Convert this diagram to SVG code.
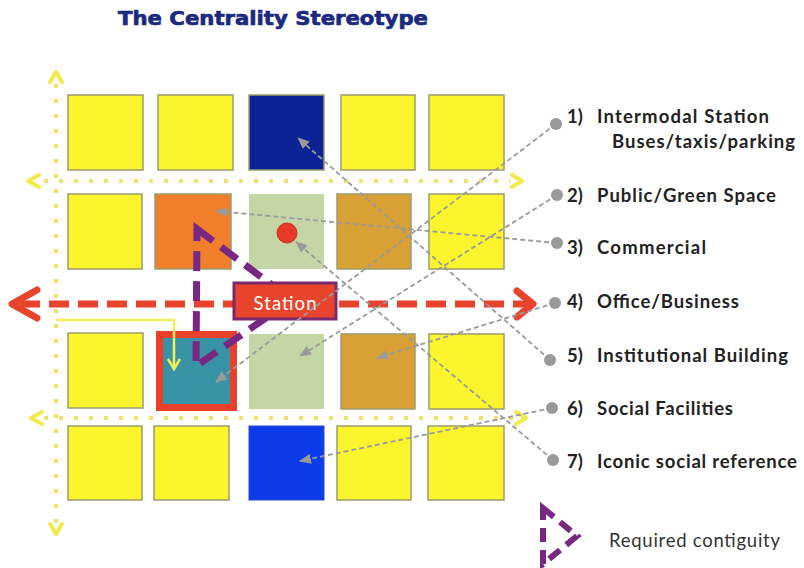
<svg xmlns="http://www.w3.org/2000/svg" width="804" height="568" viewBox="0 0 804 568">
<defs>
<style>
.box{stroke:#9c9c6c;stroke-width:1.5}
.yel{fill:#fcf52e}
.lbl{font-family:Lato,"Liberation Sans",sans-serif;font-weight:bold;font-size:18.5px;fill:#222}
.dot{stroke:#ece46a;stroke-width:4;stroke-dasharray:4 11;fill:none}
.chev{stroke:#f2ea48;stroke-width:4;fill:none;stroke-linejoin:round;stroke-linecap:round}
.gray{stroke:#9a9a9a;stroke-width:1.8;stroke-dasharray:5 3;fill:none}
.pur{stroke:#782882;stroke-width:7;stroke-dasharray:20 10;fill:none}
</style>
<marker id="ga" markerUnits="userSpaceOnUse" markerWidth="12" markerHeight="10" viewBox="0 0 12 10" refX="11" refY="5" orient="auto">
<path d="M0,0 L12,5 L0,10 z" fill="#9a9a9a"/>
</marker>
</defs>
<rect width="804" height="568" fill="#ffffff"/>
<text x="118" y="25" font-family="'DejaVu Sans',sans-serif" font-weight="bold" font-size="20" fill="#1b2a80" stroke="#1b2a80" stroke-width="0.7" textLength="310" lengthAdjust="spacingAndGlyphs">The Centrality Stereotype</text>

<g id="guides">
<line class="dot" x1="56" y1="84" x2="56" y2="526"/>
<polyline class="chev" points="50,82 56,72 62,82"/>
<polyline class="chev" points="50,524 56,534 62,524"/>
<line class="dot" x1="44" y1="181" x2="510" y2="181"/>
<polyline class="chev" points="39,175 28,181 39,187"/>
<polyline class="chev" points="512,175 522,181 512,187"/>
<line class="dot" x1="44" y1="418" x2="515" y2="418"/>
<polyline class="chev" points="42,412 31,418 42,424"/>
<polyline class="chev" points="516,412 526,418 516,424"/>
</g>

<g id="main-axis">
<line x1="20" y1="304" x2="528" y2="304" stroke="#e8432d" stroke-width="7" stroke-dasharray="20 9"/>
<polyline points="37,290 12,304 37,318" stroke="#e8432d" stroke-width="7" fill="none" stroke-linejoin="round" stroke-linecap="round"/>
<polyline points="517,291 533,304 517,317" stroke="#e8432d" stroke-width="7" fill="none" stroke-linejoin="round" stroke-linecap="round"/>
</g>

<g id="r1c1"><rect class="box yel" x="68" y="95" width="75" height="75"/></g>
<g id="r1c2"><rect class="box yel" x="158" y="95" width="75" height="75"/></g>
<g id="r1c3"><rect class="box" x="249" y="95" width="75" height="75" fill="#0a2294" stroke="#2a3a9a"/></g>
<g id="r1c4"><rect class="box yel" x="341" y="95" width="74" height="75"/></g>
<g id="r1c5"><rect class="box yel" x="429" y="95" width="75" height="75"/></g>

<g id="r2c1"><rect class="box yel" x="68" y="194" width="74" height="75"/></g>
<g id="r2c2"><rect class="box" x="155" y="194" width="76" height="75" fill="#f07e2a" stroke="#b8602a"/></g>
<g id="r2c3"><rect x="249" y="194" width="75" height="75" fill="#c5d6a6"/><circle cx="287" cy="233" r="10" fill="#e83a2a" stroke="#c83020" stroke-width="1"/></g>
<g id="r2c4"><rect class="box" x="337" y="194" width="74" height="75" fill="#d9a036" stroke="#9c8a60"/></g>
<g id="r2c5"><rect class="box yel" x="429" y="194" width="75" height="75"/></g>

<g id="r3c1"><rect class="box yel" x="68" y="333" width="75" height="75"/></g>
<g id="r3c2"><rect x="159.5" y="334.5" width="74" height="73" fill="#3893a6" stroke="#e8402a" stroke-width="7"/></g>
<g id="r3c3"><rect x="249" y="334" width="75" height="75" fill="#c5d6a6"/></g>
<g id="r3c4"><rect class="box" x="341" y="334" width="74" height="75" fill="#d9a036" stroke="#9c8a60"/></g>
<g id="r3c5"><rect class="box yel" x="429" y="334" width="75" height="75"/></g>

<g id="r4c1"><rect class="box yel" x="68" y="426" width="74" height="74"/></g>
<g id="r4c2"><rect class="box yel" x="154" y="426" width="75" height="74"/></g>
<g id="r4c3"><rect x="249" y="426" width="75" height="74" fill="#0c3bea" stroke="#2a4ad0" stroke-width="1"/></g>
<g id="r4c4"><rect class="box yel" x="337" y="426" width="74" height="74"/></g>
<g id="r4c5"><rect class="box yel" x="428" y="426" width="76" height="74"/></g>

<g id="access">
<polyline points="56,320 174,320 174,368" stroke="#f2ef5c" stroke-width="2.5" fill="none"/>
<polyline points="168,359 174,369 180,359" stroke="#f2ef5c" stroke-width="2.5" fill="none"/>
</g>

<g id="contiguity">
<polygon class="pur" points="197,229 292,300 196,366"/>
</g>

<g id="station">
<rect x="234" y="283" width="102" height="36" fill="#e8452c" stroke="#7a2a70" stroke-width="3"/>
<text x="285" y="310" text-anchor="middle" font-family="Lato,'Liberation Sans',sans-serif" font-size="18.5" fill="#ffffff" textLength="63">Station</text>
</g>

<g id="connectors">
<line class="gray" x1="556" y1="124" x2="216" y2="382" marker-end="url(#ga)"/>
<line class="gray" x1="557" y1="195" x2="300" y2="356" marker-end="url(#ga)"/>
<line class="gray" x1="557" y1="243" x2="216" y2="211" marker-end="url(#ga)"/>
<line class="gray" x1="555" y1="303" x2="377" y2="358" marker-end="url(#ga)"/>
<line class="gray" x1="550" y1="360" x2="298" y2="138" marker-end="url(#ga)"/>
<line class="gray" x1="552" y1="408" x2="300" y2="461" marker-end="url(#ga)"/>
<line class="gray" x1="553" y1="460" x2="296" y2="242" marker-end="url(#ga)"/>
<g fill="#999999">
<circle cx="556" cy="124" r="6"/>
<circle cx="557" cy="195" r="6"/>
<circle cx="557" cy="243" r="6"/>
<circle cx="555" cy="303" r="6"/>
<circle cx="550" cy="360" r="6"/>
<circle cx="552" cy="408" r="6"/>
<circle cx="553" cy="460" r="6"/>
</g>
</g>

<g id="labels">
<text class="lbl" x="567" y="123">1)</text><text class="lbl" x="597" y="123" textLength="172">Intermodal Station</text>
<text class="lbl" x="612" y="148" textLength="183">Buses/taxis/parking</text>
<text class="lbl" x="567" y="202">2)</text><text class="lbl" x="597" y="202" textLength="179">Public/Green Space</text>
<text class="lbl" x="567" y="254">3)</text><text class="lbl" x="597" y="254" textLength="109">Commercial</text>
<text class="lbl" x="567" y="308">4)</text><text class="lbl" x="597" y="308" textLength="142">Office/Business</text>
<text class="lbl" x="567" y="362">5)</text><text class="lbl" x="597" y="362" textLength="191">Institutional Building</text>
<text class="lbl" x="567" y="415">6)</text><text class="lbl" x="597" y="415" textLength="136">Social Facilities</text>
<text class="lbl" x="567" y="468">7)</text><text class="lbl" x="597" y="468" textLength="200">Iconic social reference</text>
</g>

<g id="legend">
<polygon points="543,508 577,536 543,564" stroke="#782882" stroke-width="6" stroke-dasharray="14 8" fill="none"/>
<text x="609" y="547" font-family="Lato,'Liberation Sans',sans-serif" font-size="18.5" fill="#333" textLength="171">Required contiguity</text>
</g>
</svg>
